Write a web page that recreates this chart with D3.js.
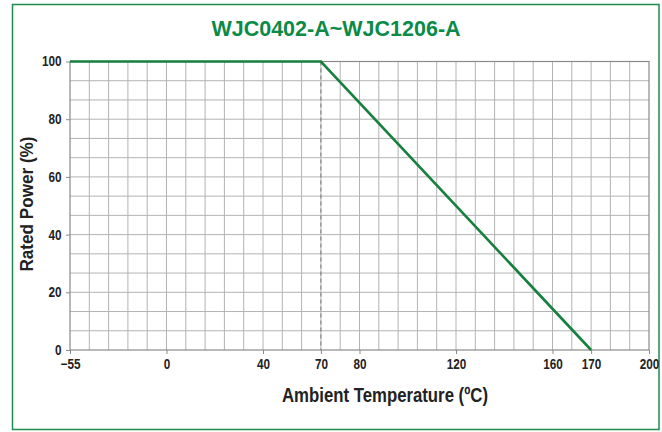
<!DOCTYPE html>
<head>
  <meta charset="utf-8">
  <title>Derating curve</title>
  <script src="https://d3js.org/d3.v7.min.js"></script>
  <style>
    body { margin:0; background:#fff; }
    svg { display:block; }
    text { font-family: "Liberation Sans", Arial, sans-serif; font-weight: bold; }
    .tick text, .axis-title { fill: #222; }
  </style>
</head>

<body>
  <svg width="662" height="432"></svg>
  <script>
    // x ticks and the grid column each one sits on (axis is piecewise)
    var xTicks = [-55, 0, 40, 70, 80, 120, 160, 170, 200];
    var xTickCols = [0, 5, 10, 13, 15, 20, 25, 27, 30];
    var yTicks = [0, 20, 40, 60, 80, 100];

    // derating curve
    var temps = [-55, 70, 170];
    var power = [100, 100, 0];
    var kneeTemp = 70;

    var svg = d3.select('svg');
    var pLeft = 70, pRight = 649, pTop = 61.5, pBottom = 350;
    var nCols = 30, nRows = 15;

    var col = d3.scaleLinear().domain([0, nCols]).range([pLeft, pRight]);
    var x = d3.scaleLinear().domain(xTicks).range(xTickCols.map(col));
    var y = d3.scaleLinear().domain([0, 100]).range([pBottom, pTop]);

    // outer green frame
    svg.append('rect')
      .attr('x', 12.5).attr('y', 4.5)
      .attr('width', 646.5).attr('height', 425)
      .attr('fill', 'none')
      .attr('stroke', '#1f8c4e')
      .attr('stroke-width', 1.5);

    // title
    svg.append('text')
      .attr('x', 336).attr('y', 36)
      .attr('text-anchor', 'middle')
      .style('font-size', '21.5px')
      .attr('fill', '#0b8a48')
      .text('WJC0402-A~WJC1206-A');

    // grid
    var grid = svg.append('g');
    grid.selectAll('.vline')
      .data(d3.range(1, nCols))
      .enter().append('line')
      .attr('x1', d => col(d)).attr('x2', d => col(d))
      .attr('y1', pTop).attr('y2', pBottom)
      .attr('stroke', '#b3b3b3').attr('stroke-width', 1);
    grid.selectAll('.hline')
      .data(d3.range(1, nRows))
      .enter().append('line')
      .attr('x1', pLeft).attr('x2', pRight)
      .attr('y1', d => y(d * 100 / nRows)).attr('y2', d => y(d * 100 / nRows))
      .attr('stroke', '#b3b3b3').attr('stroke-width', 1);
    grid.append('rect')
      .attr('x', pLeft).attr('y', pTop)
      .attr('width', pRight - pLeft).attr('height', pBottom - pTop)
      .attr('fill', 'none')
      .attr('stroke', '#8a8a8a').attr('stroke-width', 1.2);

    // axes
    var xAxis = svg.append('g')
      .attr('transform', 'translate(0,' + pBottom + ')')
      .call(d3.axisBottom(x).tickValues(xTicks).tickSize(4).tickPadding(5));
    var yAxis = svg.append('g')
      .attr('transform', 'translate(' + pLeft + ',0)')
      .call(d3.axisLeft(y).tickValues(yTicks).tickSize(4).tickPadding(0));
    [xAxis, yAxis].forEach(function(a) {
      a.select('.domain').remove();
      a.selectAll('.tick line').attr('stroke', '#8a8a8a');
      a.selectAll('.tick text')
        .style('font-size', '14px')
        .style('font-family', null);
    });
    // squeeze tick labels to a condensed look
    xAxis.selectAll('.tick text').attr('transform', 'scale(0.84,1)');
    yAxis.selectAll('.tick text').attr('x', -8.5 / 0.84).attr('transform', 'scale(0.84,1)');

    // dashed knee marker
    svg.append('line')
      .attr('x1', x(kneeTemp)).attr('x2', x(kneeTemp))
      .attr('y1', y(100)).attr('y2', y(0))
      .attr('stroke', '#777')
      .attr('stroke-width', 1)
      .attr('stroke-dasharray', '4,3');

    // curve
    var line = d3.line()
      .x(d => x(d[0]))
      .y(d => y(d[1]));
    svg.append('path')
      .datum(d3.zip(temps, power))
      .attr('d', line)
      .attr('fill', 'none')
      .attr('stroke', '#17803f')
      .attr('stroke-width', 2.6);

    // axis titles
    svg.append('text')
      .attr('class', 'axis-title')
      .attr('x', 385).attr('y', 402)
      .attr('text-anchor', 'middle')
      .attr('textLength', 206)
      .attr('lengthAdjust', 'spacingAndGlyphs')
      .style('font-size', '21px')
      .text('Ambient Temperature (ºC)');
    svg.append('text')
      .attr('class', 'axis-title')
      .attr('transform', 'translate(32.5,204) rotate(-90)')
      .attr('text-anchor', 'middle')
      .attr('textLength', 135)
      .attr('lengthAdjust', 'spacingAndGlyphs')
      .style('font-size', '18px')
      .text('Rated Power (%)');
  </script>
</body>
